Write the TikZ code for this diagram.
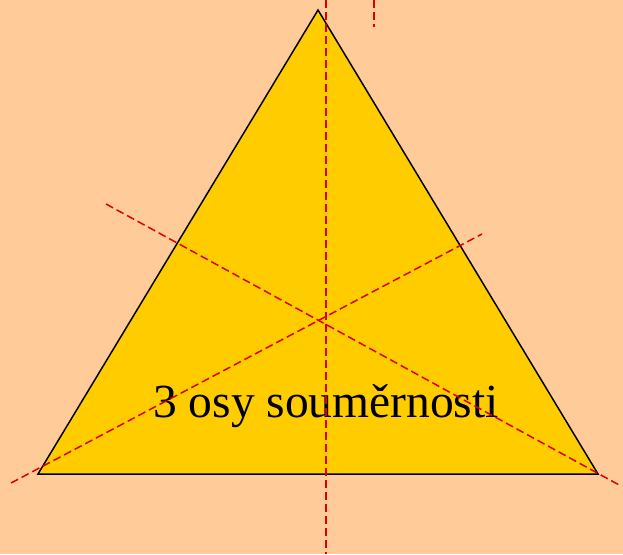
\documentclass[tikz,border=0pt]{standalone}
\usepackage{fontspec}
\setmainfont{Liberation Serif}
\definecolor{bg}{HTML}{FFCC99}
\definecolor{tri}{HTML}{FFCC00}
\definecolor{axis}{HTML}{DD0000}
\begin{document}
\begin{tikzpicture}[x=1pt,y=1pt,
  axisline/.style={draw=axis,line width=1.5pt,dash pattern=on 8pt off 4pt},
  edge/.style={draw=black,line width=1.5pt,fill=tri,line join=miter}]
\fill[bg] (0,0) rectangle (623,554);
\useasboundingbox (0,0) rectangle (623,554);
\coordinate (A) at (318,544);
\coordinate (B) at (38,80);
\coordinate (C) at (598,80);
\path[edge] (A) -- (B) -- (C) -- cycle;
\coordinate (v1) at (326,554);
\coordinate (v2) at (326,0);
\coordinate (s1) at (374,554);
\coordinate (s2) at (374,527);
\coordinate (p1) at (11,71);
\coordinate (p2) at (482,320);
\coordinate (q1) at (106,350);
\coordinate (q2) at (621,68);
\node[font=\fontsize{47.5}{52}\selectfont, anchor=base, inner sep=0pt] (lbl) at (326,136) {3 osy souměrnosti};
\draw[axisline] (v1) -- (v2);
\draw[axisline] (s1) -- (s2);
\draw[axisline] (p1) -- (p2);
\draw[axisline] (q1) -- (q2);
\end{tikzpicture}
\end{document}
